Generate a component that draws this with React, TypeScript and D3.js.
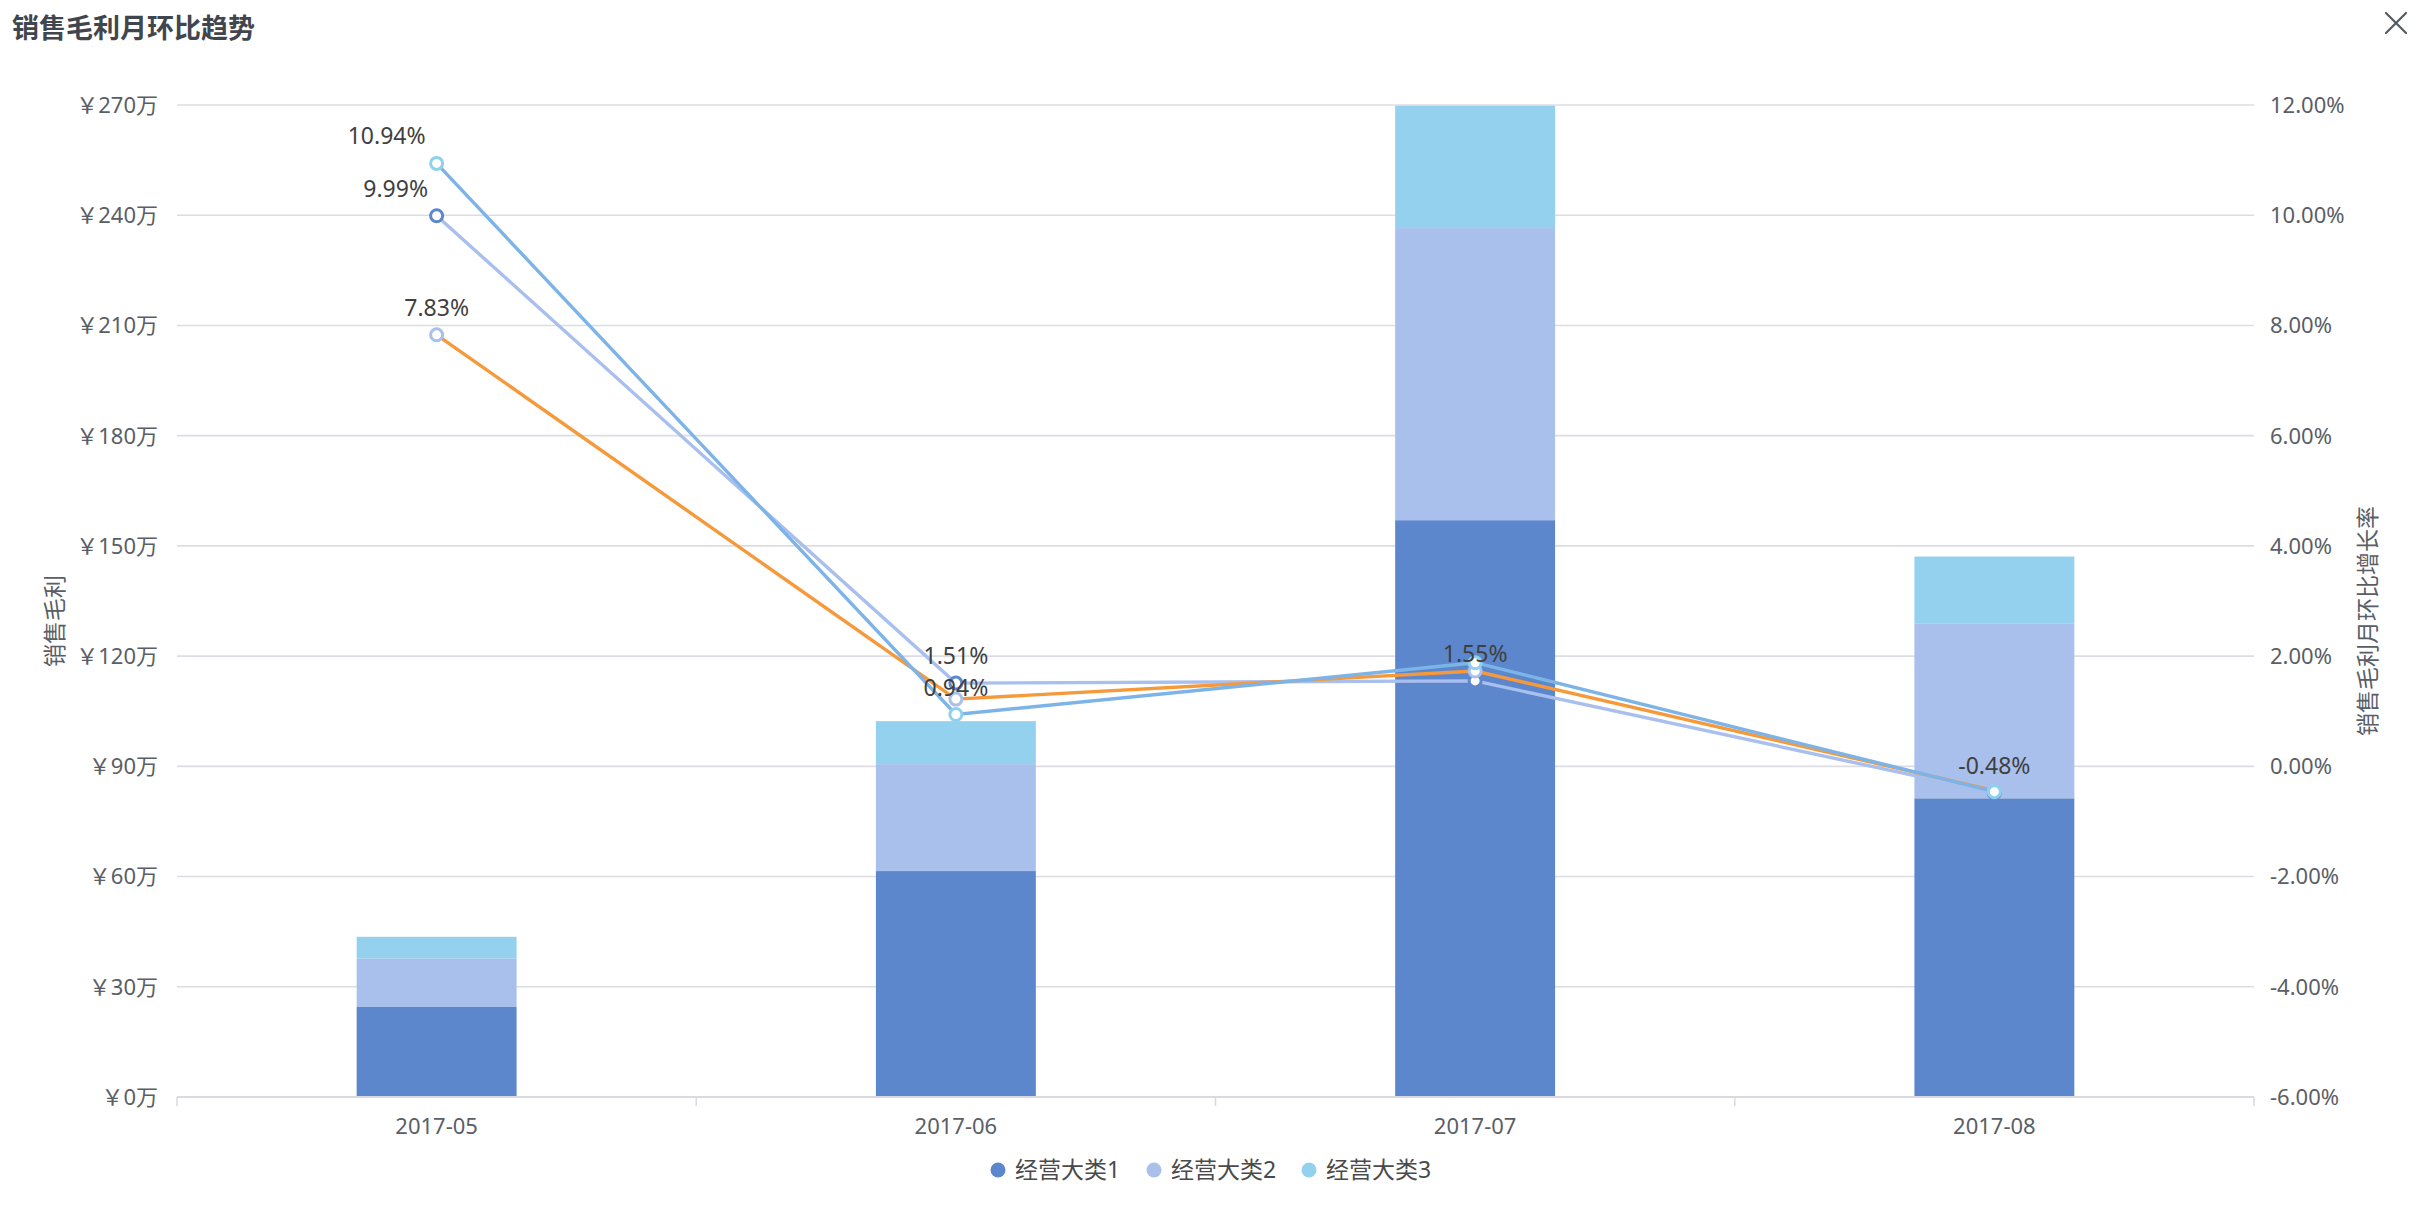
import React from "react";
import * as d3 from "d3";

const title = "销售毛利月环比趋势";
const categories = ["2017-05", "2017-06", "2017-07", "2017-08"];
const seriesNames = ["经营大类1", "经营大类2", "经营大类3"];
// 销售毛利 (万元)
const profit1 = [24.5, 61.5, 157.0, 81.3];
const profit2 = [13.2, 29.1, 79.5, 47.5];
const profit3 = [5.9, 11.7, 33.3, 18.3];
// 销售毛利月环比增长率 (%)
const growthA = [9.99, 1.51, 1.55, -0.48];
const growthB = [7.83, 1.22, 1.73, -0.44];
const growthC = [10.94, 0.94, 1.88, -0.46];
const leftTicks = [0, 30, 60, 90, 120, 150, 180, 210, 240, 270];
const rightTicks = [-6, -4, -2, 0, 2, 4, 6, 8, 10, 12];
const leftAxisName = "销售毛利";
const rightAxisName = "销售毛利月环比增长率";

const W = 2428;
const H = 1220;
const M = { left: 177, right: 2254, top: 105, bottom: 1097 };
const barColors = ["#5d87cd", "#a9bfec", "#94d1ee"];
const pointColors = ["#5d87cd", "#a9bfec", "#8fd0ee"];
const lineColors = ["#a9bfee", "#f5993b", "#7db4e8"];
const FONT = "'Noto Sans', 'Noto Sans CJK SC', sans-serif";

export default function App() {
  const x = d3.scaleBand<string>().domain(categories).range([M.left, M.right]).padding(0);
  const yL = d3.scaleLinear().domain([0, 270]).range([M.bottom, M.top]);
  const yR = d3.scaleLinear().domain([-6, 12]).range([M.bottom, M.top]);
  const bw = x.bandwidth() * 0.308;
  const cx = (c: string) => (x(c) as number) + x.bandwidth() / 2;

  const table = categories.map((c, i) => ({ c, s0: profit1[i], s1: profit2[i], s2: profit3[i] }));
  const stacked = d3.stack<any>().keys(["s0", "s1", "s2"])(table);

  const growth = [growthA, growthB, growthC];
  const line = d3
    .line<number>()
    .x((_, i) => cx(categories[i]))
    .y((v) => yR(v));

  // label layout: hide overlapping labels (first placed wins)
  const labelNudge: Record<string, number> = { "2-0": -50, "0-0": -41 };
  const fs = 23;
  const placed: { x0: number; x1: number; y0: number; y1: number }[] = [];
  const labels: { x: number; y: number; t: string; key: string }[] = [];
  const order = [0, 1, 2];
  categories.forEach((c, i) => {
    order.forEach((s) => {
      const v = growth[s][i];
      const t = v.toFixed(2) + "%";
      const lx = cx(c) + (labelNudge[`${s}-${i}`] || 0);
      const ly = yR(v) - 19;
      const w = t.length * fs * 0.56;
      const box = { x0: lx - w / 2, x1: lx + w / 2, y0: ly - 17, y1: ly + 3 };
      const hit = placed.some(
        (b) => !(box.x1 < b.x0 || box.x0 > b.x1 || box.y1 < b.y0 || box.y0 > b.y1)
      );
      if (!hit) {
        placed.push(box);
        labels.push({ x: lx, y: ly, t, key: `${s}-${i}` });
      }
    });
  });

  const legendX = [998, 1154, 1309];
  const legendY = 1170;

  return (
    <svg
      width={W}
      height={H}
      style={{ position: "absolute", left: 0, top: 0, background: "#fff" }}
      fontFamily={FONT}
    >
      <text x={12} y={38} fontSize={27} fontWeight="bold" fill="#41464e">
        {title}
      </text>
      <g stroke="#555a62" strokeWidth={2.2} strokeLinecap="round">
        <line x1={2386} y1={13} x2={2406} y2={33} />
        <line x1={2406} y1={13} x2={2386} y2={33} />
      </g>

      {/* grid */}
      {leftTicks.filter((t) => t > 0).map((t) => (
        <line key={t} x1={M.left} x2={M.right} y1={yL(t)} y2={yL(t)} stroke="#dcdde3" strokeWidth={1.6} />
      ))}
      {/* left ticks */}
      {leftTicks.map((t) => (
        <text key={t} x={158} y={yL(t)} dy="0.36em" textAnchor="end" fontSize={22} fill="#5a5e66">
          {"￥" + t + "万"}
        </text>
      ))}
      {rightTicks.map((t) => (
        <text key={t} x={2270} y={yR(t)} dy="0.36em" textAnchor="start" fontSize={22} fill="#5a5e66">
          {t.toFixed(2) + "%"}
        </text>
      ))}
      <text transform={`translate(55,621) rotate(-90)`} textAnchor="middle" dy="0.36em" fontSize={fs} fill="#5a5e66">
        {leftAxisName}
      </text>
      <text transform={`translate(2368,621) rotate(-90)`} textAnchor="middle" dy="0.36em" fontSize={fs} fill="#5a5e66">
        {rightAxisName}
      </text>

      {/* bars */}
      {stacked.map((layer, si) => (
        <g key={si} fill={barColors[si]}>
          {layer.map((d, i) => (
            <rect
              key={i}
              x={cx(categories[i]) - bw / 2}
              width={bw}
              y={yL(d[1])}
              height={yL(d[0]) - yL(d[1])}
            />
          ))}
        </g>
      ))}

      {/* x axis */}
      <line x1={M.left} x2={M.right} y1={M.bottom} y2={M.bottom} stroke="#d9d9e0" strokeWidth={2} />
      {[...categories.map((c) => x(c) as number), M.right].map((t, i) => (
        <line key={i} x1={t} x2={t} y1={M.bottom} y2={M.bottom + 9} stroke="#d9d9e0" strokeWidth={1.5} />
      ))}
      {categories.map((c) => (
        <text key={c} x={cx(c)} y={1126} dy="0.36em" textAnchor="middle" fontSize={22} fill="#5a5e66">
          {c}
        </text>
      ))}

      {/* lines */}
      {growth.map((g, s) => (
        <path key={s} d={line(g) || ""} fill="none" stroke={lineColors[s]} strokeWidth={3.4} />
      ))}
      {growth.map((g, s) => (
        <g key={s}>
          {g.map((v, i) => (
            <circle
              key={i}
              cx={cx(categories[i])}
              cy={yR(v)}
              r={6}
              fill="#fff"
              stroke={pointColors[s]}
              strokeWidth={3}
            />
          ))}
        </g>
      ))}
      {labels.map((l) => (
        <text key={l.key} x={l.x} y={l.y} textAnchor="middle" fontSize={fs} fill="#3f3f3f">
          {l.t}
        </text>
      ))}

      {/* legend */}
      {seriesNames.map((n, i) => (
        <g key={n}>
          <circle cx={legendX[i]} cy={legendY} r={7.5} fill={barColors[i]} />
          <text x={legendX[i] + 17} y={legendY} dy="0.36em" fontSize={fs} fill="#4a4a4a">
            {n}
          </text>
        </g>
      ))}
    </svg>
  );
}
